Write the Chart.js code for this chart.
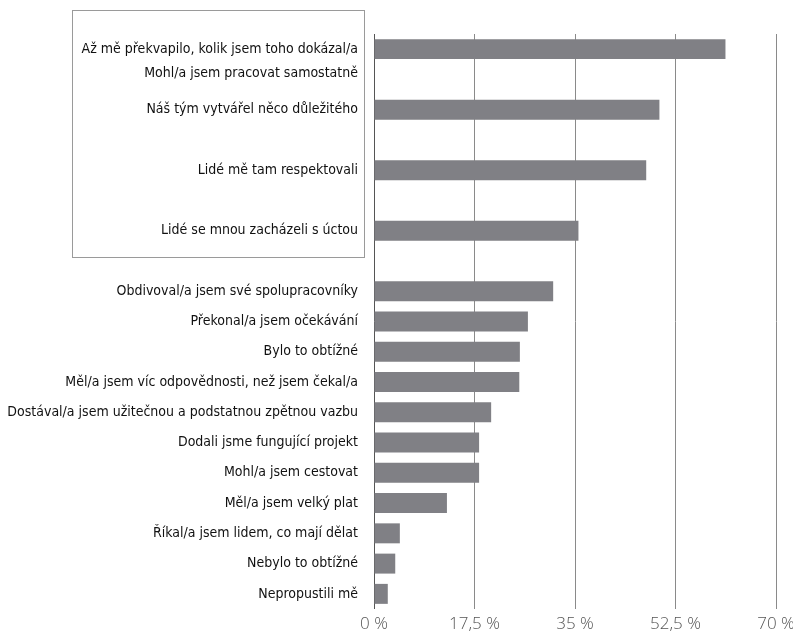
<!DOCTYPE html>
<html>
<head>
<meta charset="utf-8">
<script src="https://cdn.jsdelivr.net/npm/chart.js@4/dist/chart.umd.min.js"></script>
<style>
    html, body { margin: 0; padding: 0; background: #fff; }
    #wrap { width: 793px; height: 634px; position: relative; }
</style>
</head>
<body>
<div id="wrap"><canvas id="barChart"></canvas></div>
<script>
// --- Data ---
const categories = [
    ['', 'Až mě překvapilo, kolik jsem toho dokázal/a', 'Mohl/a jsem pracovat samostatně'],
    '',
    'Náš tým vytvářel něco důležitého',
    '',
    'Lidé mě tam respektovali',
    '',
    'Lidé se mnou zacházeli s úctou',
    '',
    'Obdivoval/a jsem své spolupracovníky',
    'Překonal/a jsem očekávání',
    'Bylo to obtížné',
    'Měl/a jsem víc odpovědnosti, než jsem čekal/a',
    'Dostával/a jsem užitečnou a podstatnou zpětnou vazbu',
    'Dodali jsme fungující projekt',
    'Mohl/a jsem cestovat',
    'Měl/a jsem velký plat',
    'Říkal/a jsem lidem, co mají dělat',
    'Nebylo to obtížné',
    'Nepropustili mě'
];
const values = [61.2, null, 49.7, null, 47.4, null, 35.6, null,
    31.2, 26.8, 25.4, 25.3, 20.4, 18.3, 18.3, 12.7, 4.5, 3.7, 2.4];
const tickValues = [0, 17.5, 35, 52.5, 70];

// box round the first group of labels
const boxPlugin = {
    id: 'groupBox',
    afterDraw(chart) {
        const ctx = chart.ctx;
        ctx.save();
        ctx.strokeStyle = '#9a9a9a';
        ctx.lineWidth = 1;
        ctx.strokeRect(72.5, 10.5, 292, 247);
        ctx.restore();
    }
};

const ctx = document.getElementById('barChart').getContext('2d');
new Chart(ctx, {
    type: 'bar',
    data: {
        labels: categories,
        datasets: [{
            data: values,
            backgroundColor: '#808085',
            borderWidth: 0,
            categoryPercentage: 1,
            barPercentage: 0.66
        }]
    },
    options: {
        indexAxis: 'y',
        responsive: true,
        maintainAspectRatio: false,
        animation: false,
        layout: { padding: { top: 34, right: 17, left: 0, bottom: 0 } },
        plugins: { legend: { display: false }, tooltip: { enabled: false } },
        scales: {
            x: {
                min: 0,
                max: 70,
                afterBuildTicks(scale) {
                    scale.ticks = tickValues.map(v => ({ value: v }));
                },
                afterFit(scale) {
                    scale.height = 25;
                    scale.paddingLeft = 0;
                    scale.paddingRight = 0;
                },
                border: { display: false },
                grid: {
                    drawTicks: false,
                    color: ctx => ctx.tick && ctx.tick.value === 0 ? '#555' : '#8a8a8a',
                    lineWidth: 1
                },
                ticks: {
                    padding: 5,
                    color: '#555',
                    font: { family: 'Open Sans', size: 17, weight: 300 },
                    callback: v => String(v).replace('.', ',') + ' %'
                }
            },
            y: {
                afterFit(scale) {
                    scale.width = 374;
                    scale.paddingTop = 0;
                    scale.paddingBottom = 0;
                },
                border: { display: false },
                grid: { display: false, drawTicks: false },
                ticks: {
                    padding: 16,
                    color: '#111',
                    autoSkip: false,
                    font: { family: "'Liberation Sans Narrow', 'DejaVu Sans Condensed', sans-serif", size: 14, lineHeight: 1.71 }
                }
            }
        }
    },
    plugins: [boxPlugin]
});
</script>
</body>
</html>
